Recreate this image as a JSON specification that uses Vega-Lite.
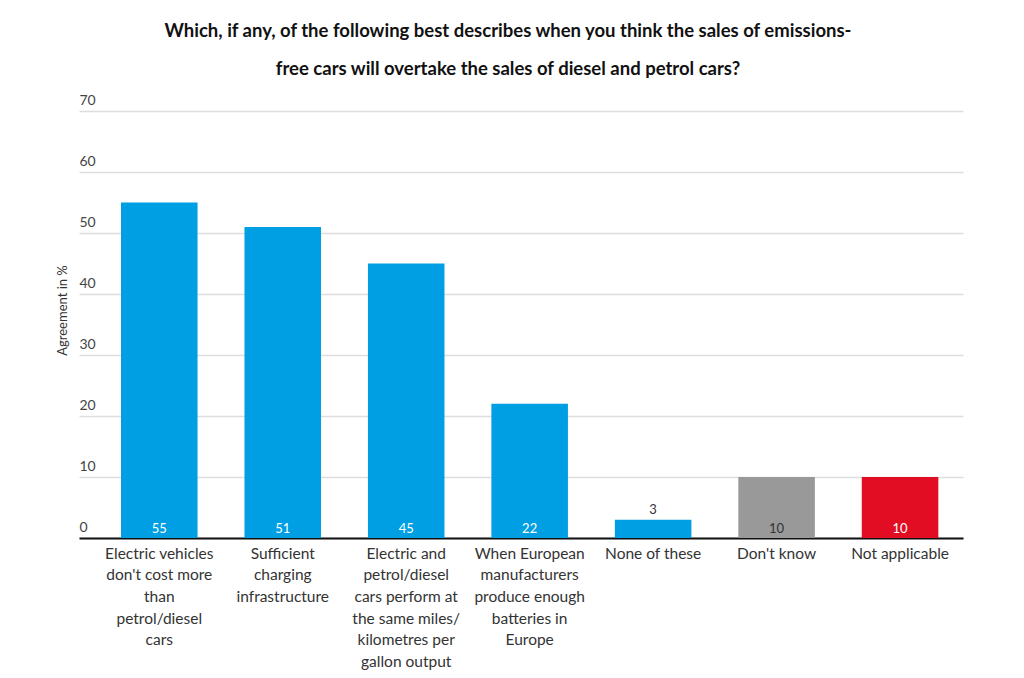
{
  "$schema": "https://vega.github.io/schema/vega-lite/v6.json",
  "autosize": "none",
  "width": 884,
  "height": 427,
  "padding": {"left": 79, "top": 111, "right": 61, "bottom": 140},
  "background": "white",
  "title": {
    "text": ["Which, if any, of the following best describes when you think the sales of emissions-", "free cars will overtake the sales of diesel and petrol cars?"],
    "font": "Lato",
    "fontSize": 18.5,
    "fontWeight": "bold",
    "color": "#111111",
    "lineHeight": 38,
    "anchor": "middle",
    "dx": -13,
    "offset": -4,
    "baseline": "bottom"
  },
  "data": {
    "values": [
      {"answer": "Electric vehicles|don't cost more|than|petrol/diesel|cars", "value": 55, "group": "answer"},
      {"answer": "Sufficient|charging|infrastructure", "value": 51, "group": "answer"},
      {"answer": "Electric and|petrol/diesel|cars perform at|the same miles/|kilometres per|gallon output", "value": 45, "group": "answer"},
      {"answer": "When European|manufacturers|produce enough|batteries in|Europe", "value": 22, "group": "answer"},
      {"answer": "None of these", "value": 3, "group": "answer"},
      {"answer": "Don't know", "value": 10, "group": "dontknow"},
      {"answer": "Not applicable", "value": 10, "group": "na"}
    ]
  },
  "encoding": {
    "x": {
      "field": "answer",
      "type": "nominal",
      "sort": null,
      "scale": {"paddingInner": 0.38, "paddingOuter": 0.27, "align": 0.63},
      "axis": {
        "title": null,
        "labelAngle": 0,
        "labelExpr": "split(datum.value, '|')",
        "labelFont": "Lato",
        "labelFontSize": 15.5,
        "labelColor": "#333333",
        "labelLineHeight": 21.7,
        "labelPadding": 8,
        "ticks": false,
        "domainColor": "#111111",
        "domainWidth": 2,
        "labelLimit": 200
      }
    }
  },
  "layer": [
    {
      "mark": {"type": "bar"},
      "encoding": {
        "y": {
          "field": "value",
          "type": "quantitative",
          "scale": {"domain": [0, 70]},
          "axis": {
            "title": "Agreement in %",
            "titleFont": "Lato",
            "titleFontSize": 13,
            "titleFontWeight": "normal",
            "titleColor": "#333333",
            "titleAngle": -90,
            "titleX": -17,
            "titleY": 199,
            "titleAlign": "center",
            "titleBaseline": "middle",
            "values": [0, 10, 20, 30, 40, 50, 60, 70],
            "labelAlign": "left",
            "labelBaseline": "bottom",
            "labelPadding": 0,
            "labelOffset": -4,
            "labelFont": "Lato",
            "labelFontSize": 14,
            "labelColor": "#444444",
            "ticks": false,
            "tickSize": 0,
            "domain": false,
            "grid": true,
            "gridColor": "#dddddd",
            "gridWidth": 1.5
          }
        },
        "color": {
          "field": "group",
          "type": "nominal",
          "scale": {"domain": ["answer", "dontknow", "na"], "range": ["#009FE3", "#999999", "#E30D23"]},
          "legend": null
        }
      }
    },
    {
      "transform": [{"filter": "datum.value >= 5"}],
      "mark": {"type": "text", "font": "Lato", "fontSize": 13, "baseline": "middle", "dy": -9},
      "encoding": {
        "y": {"datum": 0, "type": "quantitative"},
        "text": {"field": "value", "type": "quantitative"},
        "color": {
          "condition": {"test": "datum.group === 'dontknow'", "value": "#333333"},
          "value": "#ffffff"
        }
      }
    },
    {
      "transform": [{"filter": "datum.value < 5"}],
      "mark": {"type": "text", "font": "Lato", "fontSize": 13, "baseline": "middle", "dy": -10, "color": "#333333"},
      "encoding": {
        "y": {"field": "value", "type": "quantitative"},
        "text": {"field": "value", "type": "quantitative"}
      }
    }
  ],
  "config": {"view": {"stroke": null}}
}
